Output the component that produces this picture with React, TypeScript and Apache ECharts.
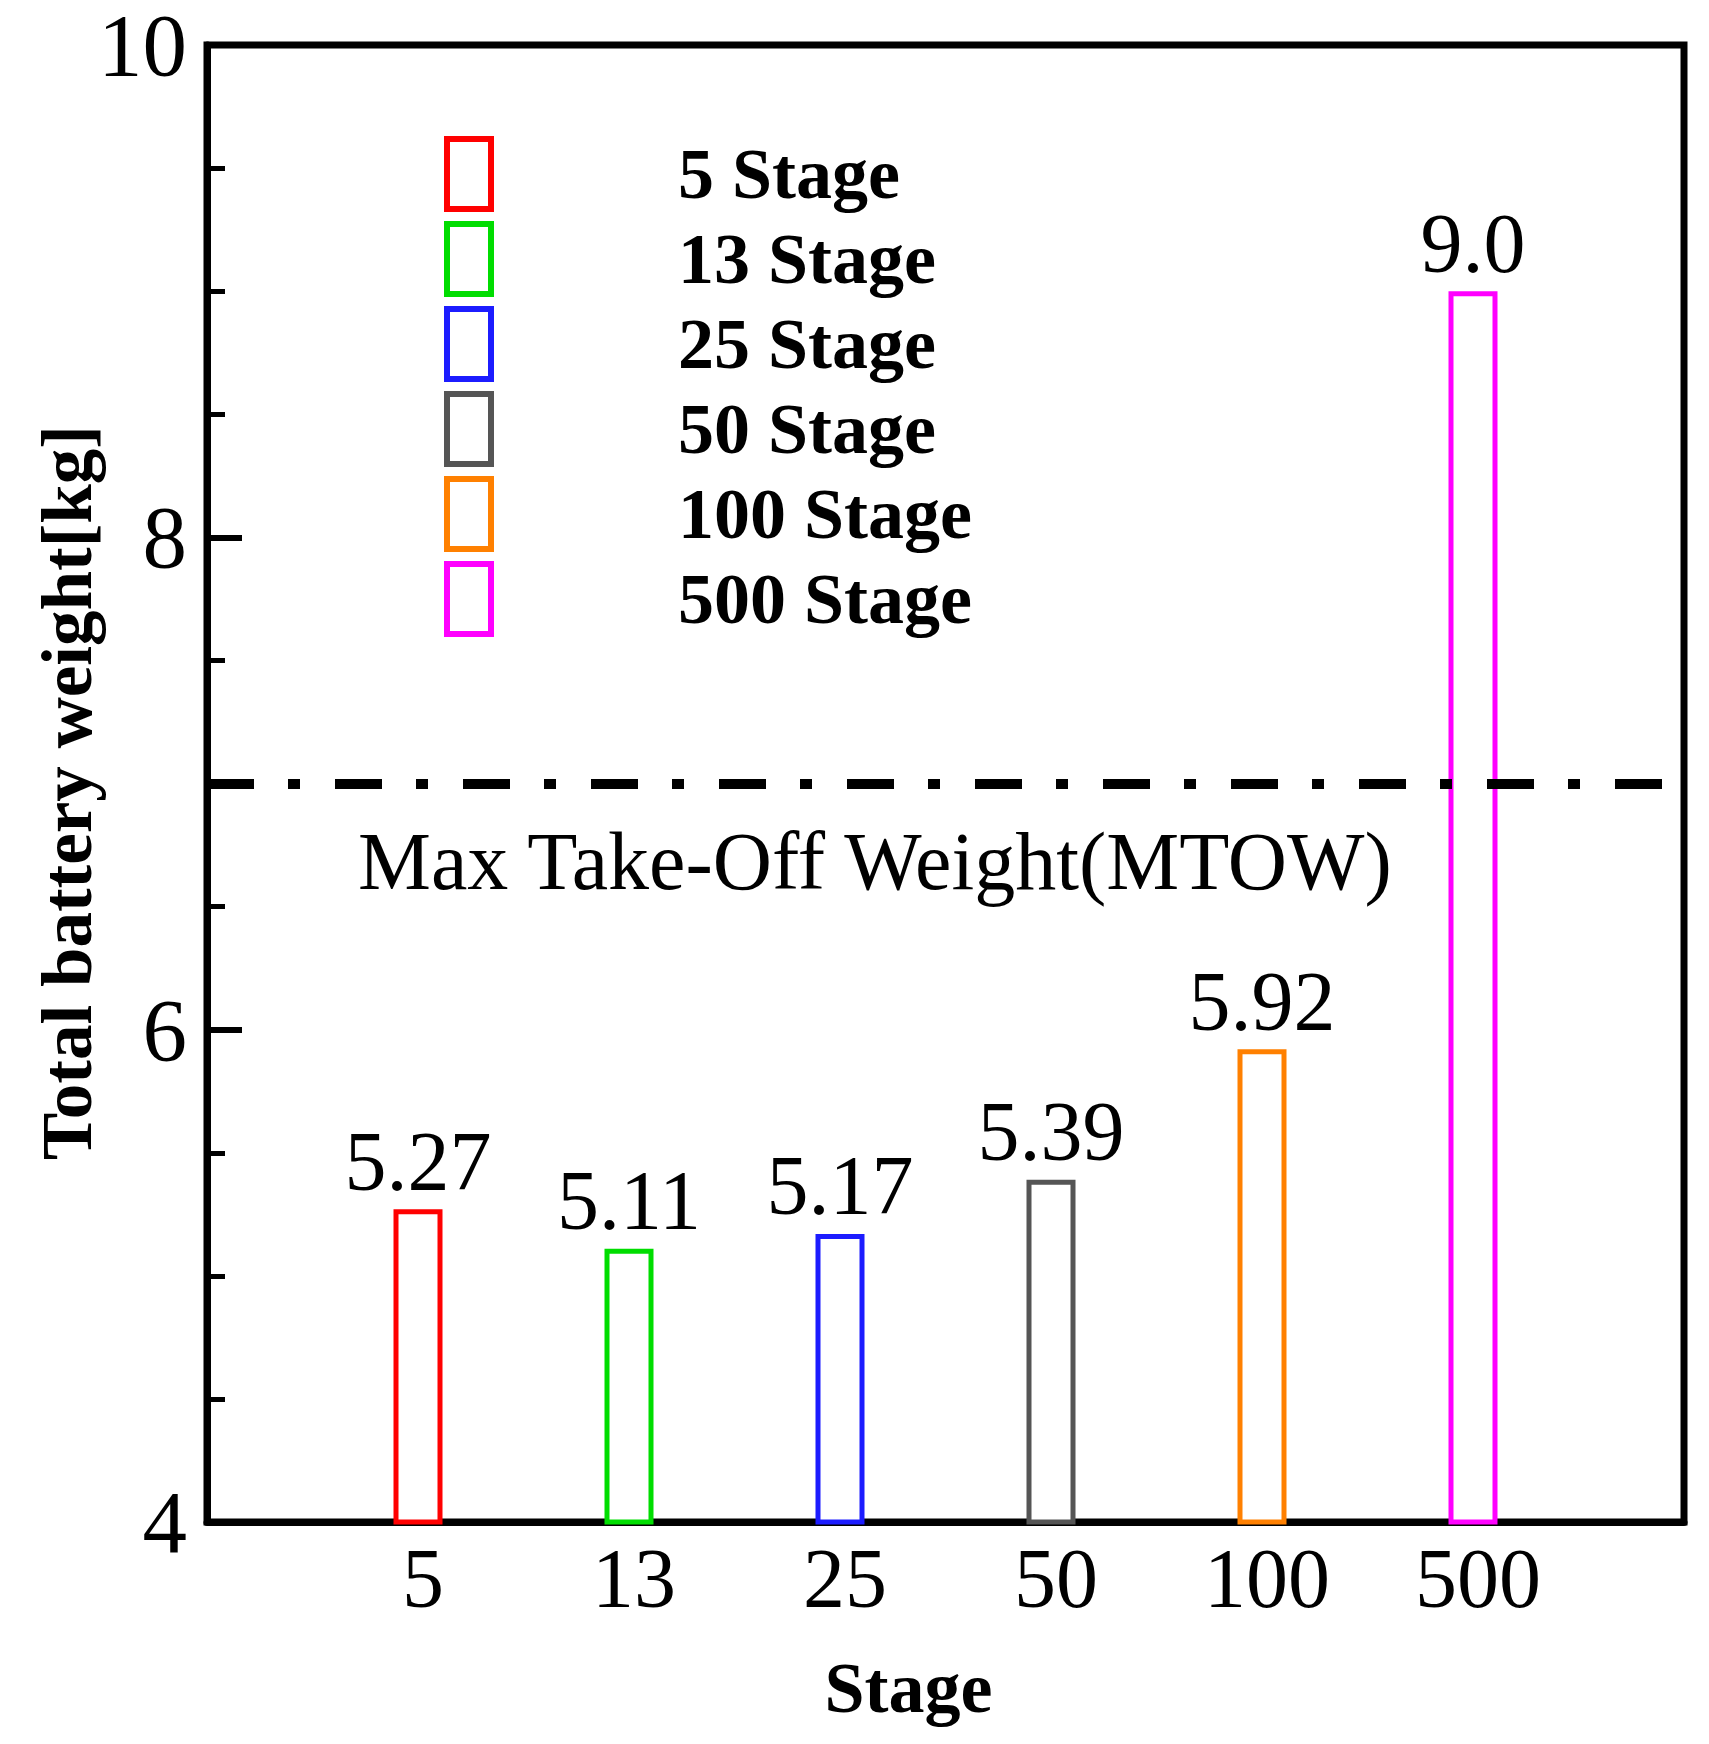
import React, { useEffect, useRef } from "react";
import * as echarts from "echarts";

const categories = ["", "5", "13", "25", "50", "100", "500", ""];
const seriesNames = ["5 Stage", "13 Stage", "25 Stage", "50 Stage", "100 Stage", "500 Stage"];
const values = [5.27, 5.11, 5.17, 5.39, 5.92, 9.0];
const valueLabels = ["5.27", "5.11", "5.17", "5.39", "5.92", "9.0"];
const colors = ["#ff0000", "#00dd00", "#1c1cff", "#555555", "#ff8000", "#ff00ff"];
const mtow = 7;
const mtowLabel = "Max Take-Off Weight(MTOW)";
const yTicks = { min: 4, max: 10, interval: 2 };

const SERIF = "'Liberation Serif', 'Times New Roman', serif";

export default function App() {
  const ref = useRef<HTMLDivElement>(null);

  useEffect(() => {
    document.body.style.margin = "0";
    if (!ref.current) return;
    const chart = echarts.init(ref.current, undefined, { renderer: "svg" });

    const series: any[] = seriesNames.map((name, i) => {
      const data = categories.map((_, k) => (k === i + 1 ? values[i] : "-"));
      const s: any = {
        type: "bar",
        name,
        data,
        barWidth: 49,
        barGap: "-100%",
        itemStyle: {
          color: "#ffffff",
          borderColor: colors[i],
          borderWidth: 5,
        },
        label: {
          show: true,
          position: "top",
          distance: 6,
          fontFamily: SERIF,
          fontSize: 84,
          color: "#000",
          formatter: () => valueLabels[i],
        },
      };
      if (i === seriesNames.length - 1) {
        s.markLine = {
          symbol: "none",
          silent: true,
          data: [{ yAxis: mtow }],
          lineStyle: { color: "#000", width: 10, type: [47, 34, 12, 35] },
          label: {
            show: true,
            position: "insideStartBottom",
            distance: [151, 37],
            formatter: mtowLabel,
            fontFamily: SERIF,
            fontSize: 82,
            color: "#000",
          },
        };
      }
      return s;
    });

    chart.setOption({
      animation: false,
      backgroundColor: "#ffffff",
      grid: {
        left: 207,
        right: 25,
        top: 45,
        bottom: 222,
        show: true,
        borderColor: "#000",
        borderWidth: 7,
        backgroundColor: "transparent",
      },
      legend: {
        show: true,
        orient: "vertical",
        left: 439,
        top: 131,
        icon: "rect",
        itemWidth: 44,
        itemHeight: 70,
        itemGap: 9,
        selectedMode: false,
        itemStyle: { borderWidth: 6 },
        textStyle: {
          fontFamily: SERIF,
          fontWeight: "bold",
          fontSize: 72,
          color: "#000",
          lineHeight: 70,
          padding: [0, 0, 0, 182],
        },
        data: seriesNames,
      },
      xAxis: {
        type: "category",
        data: categories,
        boundaryGap: false,
        name: "Stage",
        nameLocation: "middle",
        nameGap: 130,
        nameTextStyle: {
          fontFamily: SERIF,
          fontWeight: "bold",
          fontSize: 72,
          color: "#000",
          padding: [0, 74, 0, 0],
        },
        axisLine: { show: true, lineStyle: { color: "#000", width: 7 } },
        axisTick: { show: false },
        axisLabel: {
          fontFamily: SERIF,
          fontSize: 84,
          color: "#000",
          margin: 14,
          padding: [0, 0, 0, 10],
          interval: 0,
        },
        splitLine: { show: false },
      },
      yAxis: {
        type: "value",
        min: yTicks.min,
        max: yTicks.max,
        interval: yTicks.interval,
        name: "Total battery weight[kg]",
        nameLocation: "middle",
        nameGap: 105,
        nameMoveOverlap: false,
        nameTextStyle: {
          fontFamily: SERIF,
          fontWeight: "bold",
          fontSize: 71,
          color: "#000",
          padding: [0, 18, 0, 0],
        },
        axisLine: { show: true, lineStyle: { color: "#000", width: 7 } },
        axisTick: {
          show: true,
          inside: true,
          length: 35,
          lineStyle: { color: "#000", width: 6 },
        },
        minorTick: {
          show: true,
          splitNumber: 4,
          length: 18,
          lineStyle: { color: "#000", width: 5 },
        },
        axisLabel: {
          fontFamily: SERIF,
          fontSize: 89,
          lineHeight: 78,
          color: "#000",
          margin: 20,
        },
        splitLine: { show: false },
        minorSplitLine: { show: false },
      },
      series,
    });

    return () => {
      chart.dispose();
    };
  }, []);

  return <div ref={ref} style={{ width: 1709, height: 1744 }} />;
}
